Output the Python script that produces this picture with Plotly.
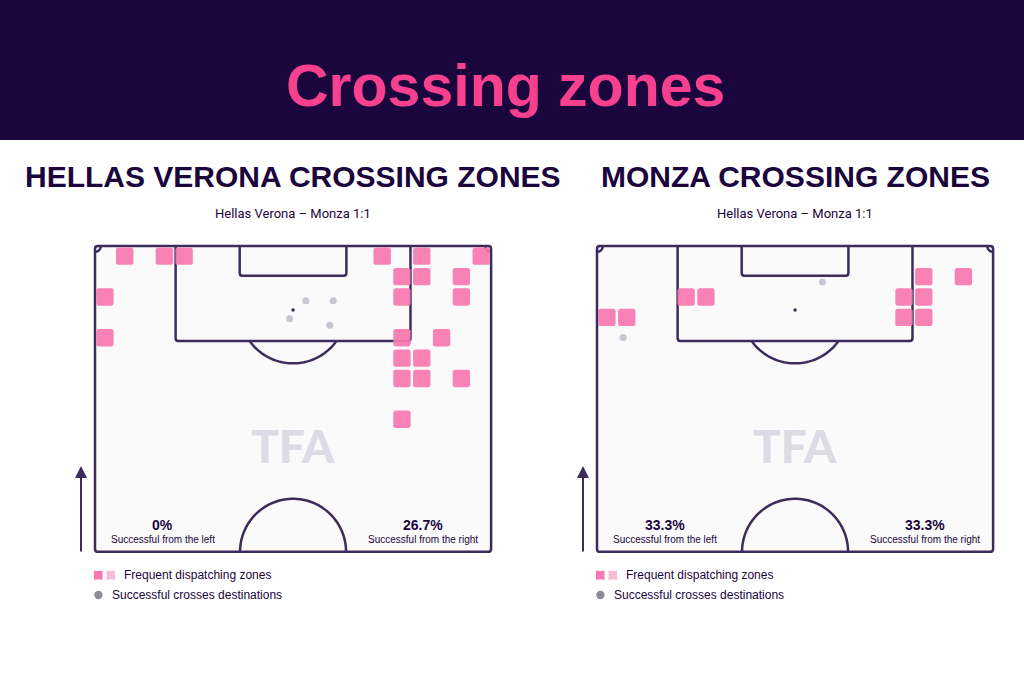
import numpy as np
import plotly.graph_objects as go

# ---------------- data ----------------
title_text = "Crossing zones"
team_titles = ["HELLAS VERONA CROSSING ZONES", "MONZA CROSSING ZONES"]
match_label = "Hellas Verona – Monza 1:1"

# dispatching zones: centre x (m from left touchline), y (m from goal line)
verona_zone_x = [5.1, 11.9, 15.3, 49.3, 56.1, 66.3,
                 52.7, 56.1, 62.9,
                 1.7, 52.7, 62.9,
                 1.7, 52.7, 59.5,
                 52.7, 56.1,
                 52.7, 56.1, 62.9,
                 52.7]
verona_zone_y = [1.75, 1.75, 1.75, 1.75, 1.75, 1.75,
                 5.25, 5.25, 5.25,
                 8.75, 8.75, 8.75,
                 15.75, 15.75, 15.75,
                 19.25, 19.25,
                 22.75, 22.75, 22.75,
                 29.75]
monza_zone_x = [56.1, 62.9, 15.3, 18.7, 52.7, 56.1, 1.7, 5.1, 52.7, 56.1]
monza_zone_y = [5.25, 5.25, 8.75, 8.75, 8.75, 8.75, 12.25, 12.25, 12.25, 12.25]

# successful crosses destinations
verona_dest_x = [36.2, 40.9, 33.4, 40.3]
verona_dest_y = [9.4, 9.4, 12.5, 13.6]
monza_dest_x = [38.7, 4.5]
monza_dest_y = [6.2, 15.7]

left_pct = ["0%", "33.3%"]
right_pct = ["26.7%", "33.3%"]
left_label = "Successful from the left"
right_label = "Successful from the right"
legend_zone = "Frequent dispatching zones"
legend_dest = "Successful crosses destinations"

# ---------------- style ----------------
W, H = 1024, 683
DARK = "#1a053d"
PINK_T = "#f7418f"
LINE = "#3d2b5c"
ZONE = "#f777b0"
ZONE_L = "#f9bcd7"
DEST = "#c9c6d3"
DEST_LEG = "#8e8a9c"
PITCH_BG = "#fafafb"
SANS = "Liberation Sans, Arial, sans-serif"

PL, PW = 68.0, 52.5     # pitch width, half length
S = 5.825               # px per metre
PAD = 2.0
LEFTS = [95, 597]
TOP = 246

def X(p):
    return p / W

def Y(p):
    return 1 - p / H

fig = go.Figure()
shapes = []
annotations = []

def rounded_rect(x0, y0, x1, y1, r):
    return (f"M {x0+r},{y0} L {x1-r},{y0} Q {x1},{y0} {x1},{y0+r} "
            f"L {x1},{y1-r} Q {x1},{y1} {x1-r},{y1} L {x0+r},{y1} "
            f"Q {x0},{y1} {x0},{y1-r} L {x0},{y0+r} Q {x0},{y0} {x0+r},{y0} Z")

def open_box(x0, x1, depth, r):
    # three-sided box hanging from the goal line (y=0), rounded far corners
    return (f"M {x0},0 L {x0},{depth-r} Q {x0},{depth} {x0+r},{depth} "
            f"L {x1-r},{depth} Q {x1},{depth} {x1},{depth-r} L {x1},0")

def arc_path(cx, cy, r, a0, a1, n=60):
    t = np.linspace(a0, a1, n)
    xs = cx + r * np.cos(t)
    ys = cy + r * np.sin(t)
    return "M " + " L ".join(f"{a:.3f},{b:.3f}" for a, b in zip(xs, ys))

# header band
shapes.append(dict(type="rect", xref="paper", yref="paper", x0=0, x1=1,
                   y0=Y(140), y1=1, fillcolor=DARK, line_width=0, layer="below"))
annotations.append(dict(text=title_text, xref="paper", yref="paper", x=X(505), y=Y(86),
                        showarrow=False, xanchor="center", yanchor="middle",
                        font=dict(family=SANS, size=59, color=PINK_T, weight="bold")))

teams = [
    (verona_zone_x, verona_zone_y, verona_dest_x, verona_dest_y),
    (monza_zone_x, monza_zone_y, monza_dest_x, monza_dest_y),
]

layout_axes = {}
for i, (zx, zy, dx, dy) in enumerate(teams):
    L = LEFTS[i]
    xa = "x" if i == 0 else "x2"
    ya = "y" if i == 0 else "y2"
    xname = "xaxis" if i == 0 else "xaxis2"
    yname = "yaxis" if i == 0 else "yaxis2"
    B = TOP + PW * S
    layout_axes[xname] = dict(domain=[X(L - PAD * S), X(L + (PL + PAD) * S)],
                              range=[-PAD, PL + PAD], visible=False, fixedrange=True)
    layout_axes[yname] = dict(domain=[Y(B + PAD * S), Y(TOP - PAD * S)],
                              range=[PW + PAD, -PAD], visible=False, fixedrange=True)
    lw = 2.5
    ln = dict(color=LINE, width=lw)
    # pitch background + outline
    shapes.append(dict(type="path", xref=xa, yref=ya,
                       path=rounded_rect(0, 0, PL, PW, 0.5),
                       fillcolor=PITCH_BG, line=ln, layer="below"))
    # penalty box
    shapes.append(dict(type="path", xref=xa, yref=ya,
                       path=open_box(PL / 2 - 20.16, PL / 2 + 20.16, 16.3, 0.45),
                       line=ln, layer="below"))
    # six-yard box
    shapes.append(dict(type="path", xref=xa, yref=ya,
                       path=open_box(PL / 2 - 9.16, PL / 2 + 9.16, 5.1, 0.45),
                       line=ln, layer="below"))
    # D arc
    ang = np.arccos((16.3 - 11) / 9.15)
    shapes.append(dict(type="path", xref=xa, yref=ya,
                       path=arc_path(PL / 2, 11, 9.15, np.pi / 2 - ang, np.pi / 2 + ang),
                       line=ln, layer="below"))
    # centre circle half
    shapes.append(dict(type="path", xref=xa, yref=ya,
                       path=arc_path(PL / 2, PW, 9.1, np.pi, 2 * np.pi),
                       line=ln, layer="below"))
    # corner arcs
    shapes.append(dict(type="path", xref=xa, yref=ya,
                       path=arc_path(0, 0, 1.0, 0, np.pi / 2, 20), line=ln, layer="below"))
    shapes.append(dict(type="path", xref=xa, yref=ya,
                       path=arc_path(PL, 0, 1.0, np.pi / 2, np.pi, 20), line=ln, layer="below"))
    # zones
    h = 1.49
    for x, y in zip(zx, zy):
        shapes.append(dict(type="path", xref=xa, yref=ya,
                           path=rounded_rect(x - h, y - h, x + h, y + h, 0.45),
                           fillcolor=ZONE, opacity=0.92, line_width=0, layer="above"))
    # penalty spot
    fig.add_trace(go.Scatter(x=[PL / 2], y=[11], xaxis=xa, yaxis=ya, mode="markers",
                             marker=dict(size=3.5, color=LINE), hoverinfo="skip",
                             showlegend=False))
    # destinations
    fig.add_trace(go.Scatter(x=dx, y=dy, xaxis=xa, yaxis=ya, mode="markers",
                             marker=dict(size=7, color=DEST), hoverinfo="skip",
                             showlegend=False))
    # watermark
    annotations.append(dict(text="TFA", xref=xa, yref=ya, x=PL / 2, y=34.3,
                            showarrow=False, font=dict(family="Lato", size=46,
                                                       color="#dddbe3", weight=900)))
    # percentages
    for xx, pct, lab in [(11.6, left_pct[i], left_label), (56.3, right_pct[i], right_label)]:
        annotations.append(dict(text=pct, xref=xa, yref=ya, x=xx, y=47.9, showarrow=False,
                                font=dict(family=SANS, size=14, color=DARK, weight="bold")))
        annotations.append(dict(text=lab, xref=xa, yref=ya, x=xx, y=50.4, showarrow=False,
                                font=dict(family=SANS, size=10, color=DARK)))
    cx = L + PL / 2 * S
    # team heading
    annotations.append(dict(text=team_titles[i], xref="paper", yref="paper", x=X(cx), y=Y(177),
                            showarrow=False, xanchor="center", yanchor="middle",
                            font=dict(family=SANS, size=30, color=DARK, weight="bold")))
    annotations.append(dict(text=match_label, xref="paper", yref="paper", x=X(cx), y=Y(214),
                            showarrow=False, xanchor="center", yanchor="middle",
                            font=dict(family="Roboto", size=13, color=DARK)))
    # direction arrow
    ax_px = L - 14
    annotations.append(dict(text="", xref="paper", yref="paper", x=X(ax_px), y=Y(466),
                            ax=0, ay=87, showarrow=True, arrowhead=2, arrowsize=1.2,
                            arrowwidth=2, arrowcolor=LINE))
    # legend
    shapes.append(dict(type="path", xref="paper", yref="paper",
                       path=rounded_rect(X(L - 1), Y(571), X(L + 7.5), Y(579.5), 0.002),
                       fillcolor=ZONE, line_width=0))
    shapes.append(dict(type="path", xref="paper", yref="paper",
                       path=rounded_rect(X(L + 11.5), Y(571), X(L + 20), Y(579.5), 0.002),
                       fillcolor=ZONE_L, line_width=0))
    shapes.append(dict(type="circle", xref="paper", yref="paper",
                       x0=X(L - 0.8), x1=X(L + 7.6), y0=Y(599.2), y1=Y(590.8),
                       fillcolor=DEST_LEG, line_width=0))
    annotations.append(dict(text=legend_zone, xref="paper", yref="paper", x=X(L + 27), y=Y(575),
                            showarrow=False, xanchor="left", yanchor="middle",
                            font=dict(family=SANS, size=12, color=DARK)))
    annotations.append(dict(text=legend_dest, xref="paper", yref="paper", x=X(L + 15), y=Y(595),
                            showarrow=False, xanchor="left", yanchor="middle",
                            font=dict(family=SANS, size=12, color=DARK)))

fig.update_layout(width=W, height=H, margin=dict(l=0, r=0, t=0, b=0),
                  paper_bgcolor="white", plot_bgcolor="rgba(0,0,0,0)",
                  shapes=shapes, annotations=annotations, showlegend=False,
                  **layout_axes)
fig.write_html("out.html", config=dict(displayModeBar=False),
               post_script="document.body.style.margin='0';document.body.style.overflow='hidden';")
